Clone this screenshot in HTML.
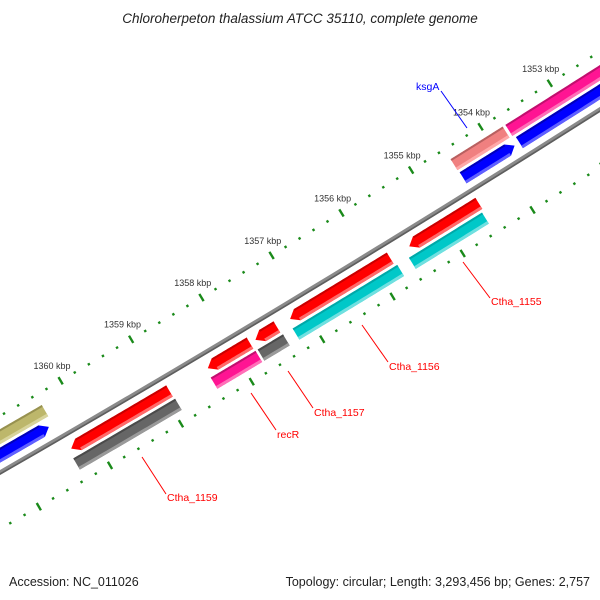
<!DOCTYPE html>
<html><head><meta charset="utf-8"><style>
html,body{margin:0;padding:0;background:#fff;}
svg{display:block;font-family:"Liberation Sans",sans-serif;}
</style></head><body>
<svg id="map" width="600" height="600" viewBox="0 0 600 600" xmlns="http://www.w3.org/2000/svg">
<rect width="600" height="600" fill="#fff"/>
<text x="300" y="23" text-anchor="middle" font-size="13.5" font-style="italic" fill="#222">Chloroherpeton thalassium ATCC 35110, complete genome</text>
<g id="layer"></g>
<g font-size="10.5">
<line x1="441" y1="91" x2="467" y2="128" stroke="#0000ff" stroke-width="1"/>
<text x="416" y="90" fill="#0000ff">ksgA</text>
<line x1="463" y1="262" x2="490" y2="298" stroke="#ff0000" stroke-width="1"/>
<text x="491" y="305" fill="#ff0000">Ctha_1155</text>
<line x1="362" y1="325" x2="388" y2="362" stroke="#ff0000" stroke-width="1"/>
<text x="389" y="370" fill="#ff0000">Ctha_1156</text>
<line x1="288" y1="371" x2="313" y2="408" stroke="#ff0000" stroke-width="1"/>
<text x="314" y="416" fill="#ff0000">Ctha_1157</text>
<line x1="251" y1="393" x2="276" y2="430" stroke="#ff0000" stroke-width="1"/>
<text x="277" y="438" fill="#ff0000">recR</text>
<line x1="142" y1="457" x2="166" y2="494" stroke="#ff0000" stroke-width="1"/>
<text x="167" y="501" fill="#ff0000">Ctha_1159</text>
</g>
<text x="9" y="586" font-size="12.5" fill="#222">Accession: NC_011026</text>
<text x="590" y="586" font-size="12.5" fill="#222" text-anchor="end">Topology: circular; Length: 3,293,456 bp; Genes: 2,757</text>
</svg>
<script>
const featStart = [1352000, 1353770, 1360349, 1352000, 1353770, 1360408, 1354512, 1355781, 1357395, 1357778, 1358918, 1354539, 1355751, 1357378, 1357768, 1358907];
const featEnd   = [1353730, 1354520, 1362000, 1353700, 1354510, 1362000, 1355508, 1357207, 1357700, 1358375, 1360305, 1355584, 1357241, 1357737, 1358403, 1360343];
const featRing  = [0, 0, 0, 1, 1, 1, 2, 2, 2, 2, 2, 3, 3, 3, 3, 3];
const featColor = ["pink","salmon","olive","blue","blue","blue","red","red","red","red","red","cyan","cyan","gray","pink","gray"];
const featNames = ["feature-pink-1353","feature-salmon-ksgA","feature-olive-1361","feature-blue-1353","feature-blue-ksgA","feature-blue-1361","feature-ctha1155","feature-ctha1156","feature-ctha1157","feature-recR","feature-ctha1159","feature-cyan-1155","feature-cyan-1156","feature-gray-1157","feature-pink-recR","feature-gray-1159"];
const tickStart = 1350000, tickEnd = 1363000, tickStep = 200;
const tickLabelKbp = [1353, 1354, 1355, 1356, 1357, 1358, 1359, 1360];

const CX = -7963, CY = -13366, R0 = 15966;
const A0 = 57.668, DEG_PER_KBP = 0.29443, BP0 = 1353000;
const ringR = [R0-31, R0-15, R0+15, R0+31];
const HALF = 6.5;
const pal = {
  red:["#ff0000","#c80000","#ff6a6a"], cyan:["#00c8c8","#00a8a8","#70e0e0"],
  gray:["#666666","#4a4a4a","#9a9a9a"], pink:["#ff1493","#c0106e","#ff70b8"],
  salmon:["#f08080","#b86060","#ffa8a8"], blue:["#0000ff","#0000b8","#6060ff"],
  olive:["#bdb76b","#979150","#d8d49c"]
};
const NS = "http://www.w3.org/2000/svg";
const layer = document.getElementById("layer");
function ang(bp){ return (A0 + (bp-BP0)/1000*DEG_PER_KBP)*Math.PI/180; }
function pt(bp, r){ const a = ang(bp); return [CX + r*Math.cos(a), CY + r*Math.sin(a)]; }
function arcPts(b1, b2, r){ const n = 40, out=[]; for(let i=0;i<=n;i++){ out.push(pt(b1+(b2-b1)*i/n, r)); } return out; }
function band(b1, b2, r1, r2){ return arcPts(b1,b2,r1).concat(arcPts(b2,b1,r2)); }
function poly(pts, fill, name){
  const p = document.createElementNS(NS, "polygon");
  p.setAttribute("points", pts.map(q=>q[0].toFixed(2)+","+q[1].toFixed(2)).join(" "));
  p.setAttribute("fill", fill);
  
  
  layer.appendChild(p);
  return p;
}
// backbone
poly(band(tickStart, tickEnd, R0-2.2, R0+2.2), "#8a8a8a", "backbone");
poly(band(tickStart, tickEnd, R0+0.6, R0+2.2), "#5e5e5e", "backbone-shadow");
// rulers
[R0-49, R0+49].forEach(function(rr, ri){
  for(let bp=tickStart; bp<=tickEnd; bp+=tickStep){
    const major = (bp % 1000) === 0;
    const len = major ? 4.2 : 1.2;
    const p1 = pt(bp, rr-len), p2 = pt(bp, rr+len);
    const l = document.createElementNS(NS, "line");
    l.setAttribute("x1", p1[0]); l.setAttribute("y1", p1[1]);
    l.setAttribute("x2", p2[0]); l.setAttribute("y2", p2[1]);
    l.setAttribute("stroke", "#1a8a1a"); l.setAttribute("stroke-width", "2.4");
    
    
    layer.appendChild(l);
  }
});
tickLabelKbp.forEach(function(k){
  const p = pt(k*1000, R0-49-17);
  const t = document.createElementNS(NS, "text");
  t.setAttribute("x", p[0]); t.setAttribute("y", p[1]+3);
  t.setAttribute("text-anchor", "middle"); t.setAttribute("font-size", "9");
  t.setAttribute("fill", "#333");
  t.textContent = k + " kbp";
  
  
  layer.appendChild(t);
});
// features
const ARROW = 100;
for(let i=0;i<featStart.length;i++){
  const s = featStart[i], e = featEnd[i], ring = featRing[i], c = pal[featColor[i]];
  const r = ringR[ring], ri = r-HALF, ro = r+HALF;
  let pts;
  if(ring === 2){ // forward, arrow at high-bp end
    const eb = Math.max(s, e-ARROW);
    pts = arcPts(s, eb, ri).concat([pt(e, r)]).concat(arcPts(eb, s, ro));
  } else if(ring === 1){ // reverse, arrow at low-bp end
    const sb = Math.min(e, s+ARROW);
    pts = [pt(s, r)].concat(arcPts(sb, e, ri)).concat(arcPts(e, sb, ro));
  } else {
    pts = band(s, e, ri, ro);
  }
  poly(pts, c[0], featNames[i]);
  const s2 = ring===1 ? Math.min(e, s+ARROW) : s;
  const e2 = ring===2 ? Math.max(s, e-ARROW) : e;
  poly(band(s2, e2, ri, ri+2), c[1], featNames[i]+"-edge");
  poly(band(s2, e2, ro-3, ro), c[2], featNames[i]+"-highlight");
}
</script>
</body></html>
